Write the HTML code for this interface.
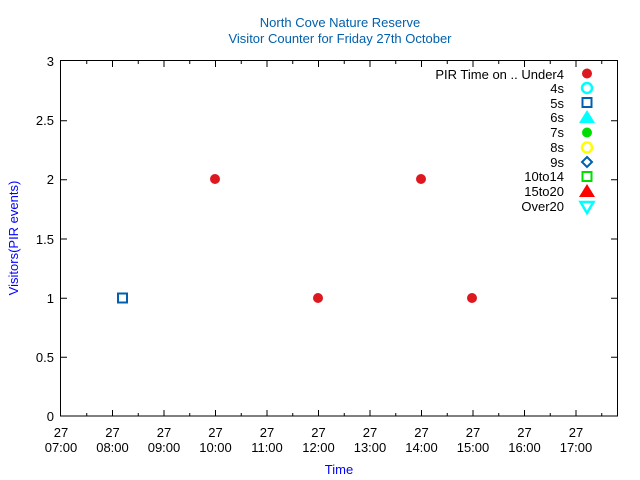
<!DOCTYPE html>
<html><head><style>body{margin:0;background:#fff}svg{display:block}text{font-family:"Liberation Sans",sans-serif;font-size:13px}</style></head><body>
<svg width="640" height="480" viewBox="0 0 640 480">
<text x="340" y="27" text-anchor="middle" fill="#0060ad">North Cove Nature Reserve</text>
<text x="340" y="43" text-anchor="middle" fill="#0060ad">Visitor Counter for Friday 27th October</text>
<text transform="translate(18,238) rotate(-90)" text-anchor="middle" fill="#0000ff">Visitors(PIR events)</text>
<text x="339" y="474" text-anchor="middle" fill="#0000ff">Time</text>
<g stroke="#000" stroke-width="1" fill="none">
<rect x="60.5" y="60.5" width="557" height="355.5"/>
<path d="M61 357.3h6M61 298.2h6M61 239h6M61 179.8h6M61 120.7h6M617 357.3h-6M617 298.2h-6M617 239h-6M617 179.8h-6M617 120.7h-6"/>
<path d="M112.5 416v-6M164 416v-6M215.5 416v-6M267 416v-6M318.5 416v-6M370 416v-6M421.5 416v-6M473 416v-6M524.5 416v-6M576 416v-6
M112.5 61v6M164 61v6M215.5 61v6M267 61v6M318.5 61v6M370 61v6M421.5 61v6M473 61v6M524.5 61v6M576 61v6
M86.75 416v-3M138.25 416v-3M189.75 416v-3M241.25 416v-3M292.75 416v-3M344.25 416v-3M395.75 416v-3M447.25 416v-3M498.75 416v-3M550.25 416v-3M601.75 416v-3
M86.75 61v3M138.25 61v3M189.75 61v3M241.25 61v3M292.75 61v3M344.25 61v3M395.75 61v3M447.25 61v3M498.75 61v3M550.25 61v3M601.75 61v3"/>
</g>
<g text-anchor="end">
<text x="54" y="421">0</text><text x="54" y="362">0.5</text><text x="54" y="303">1</text><text x="54" y="244">1.5</text><text x="54" y="184">2</text><text x="54" y="125">2.5</text><text x="54" y="66">3</text>
</g>
<g text-anchor="middle">
<text x="61" y="437">27</text><text x="61" y="452">07:00</text>
<text x="112.5" y="437">27</text><text x="112.5" y="452">08:00</text>
<text x="164" y="437">27</text><text x="164" y="452">09:00</text>
<text x="215.5" y="437">27</text><text x="215.5" y="452">10:00</text>
<text x="267" y="437">27</text><text x="267" y="452">11:00</text>
<text x="318.5" y="437">27</text><text x="318.5" y="452">12:00</text>
<text x="370" y="437">27</text><text x="370" y="452">13:00</text>
<text x="421.5" y="437">27</text><text x="421.5" y="452">14:00</text>
<text x="473" y="437">27</text><text x="473" y="452">15:00</text>
<text x="524.5" y="437">27</text><text x="524.5" y="452">16:00</text>
<text x="576" y="437">27</text><text x="576" y="452">17:00</text>
</g>
<g fill="#dd181f"><circle cx="215" cy="179" r="5"/><circle cx="318" cy="298" r="5"/><circle cx="421" cy="179" r="5"/><circle cx="472" cy="298" r="5"/></g>
<rect x="118" y="293.5" width="9" height="9" fill="none" stroke="#0060ad" stroke-width="2"/>
<g text-anchor="end">
<text x="564" y="79">PIR Time on .. Under4</text>
<text x="564" y="93">4s</text><text x="564" y="108">5s</text><text x="564" y="122">6s</text><text x="564" y="137">7s</text><text x="564" y="152">8s</text><text x="564" y="167">9s</text><text x="564" y="181">10to14</text><text x="564" y="196">15to20</text><text x="564" y="211">Over20</text>
</g>
<circle cx="587" cy="73.5" r="5" fill="#dd181f"/>
<circle cx="587" cy="88" r="5" fill="none" stroke="#00ffff" stroke-width="2.5"/>
<rect x="582.5" y="98" width="9" height="9" fill="none" stroke="#0060ad" stroke-width="2"/>
<path d="M587 110l8 13h-16z" fill="#00ffff"/>
<circle cx="587" cy="132.5" r="5" fill="#00dd00"/>
<circle cx="587" cy="147.5" r="5" fill="none" stroke="#ffff00" stroke-width="2.5"/>
<path d="M587 157l5 5-5 5-5-5z" fill="none" stroke="#0060ad" stroke-width="2"/>
<rect x="582.5" y="172" width="9" height="9" fill="none" stroke="#00dd00" stroke-width="2"/>
<path d="M587 184l8 13h-16z" fill="#ff0000"/>
<path d="M580.5 202h13l-6.5 11z" fill="none" stroke="#00ffff" stroke-width="2.5"/>
</svg>
</body></html>
